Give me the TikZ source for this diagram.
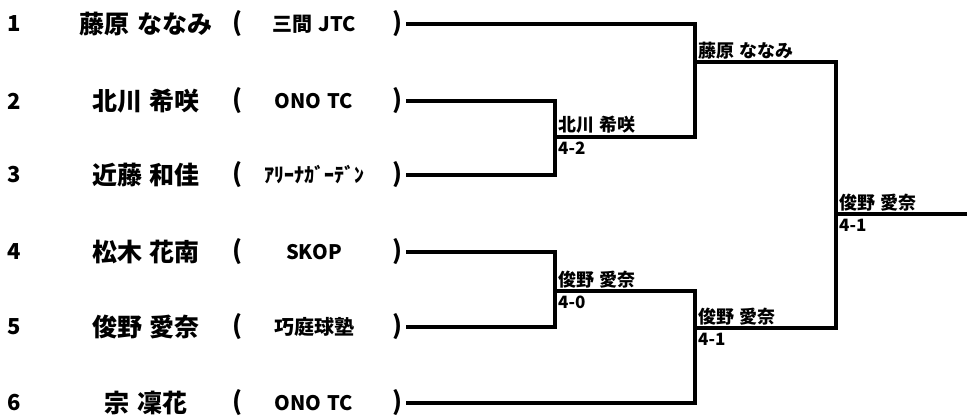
\documentclass[tikz,border=0pt]{standalone}
\usepackage{fontspec}
\newfontfamily\jp[WordSpace=1.3]{Noto Sans CJK JP}
\usetikzlibrary{calc}

\begin{document}
\begin{tikzpicture}[x=1pt, y=-1pt]
        % ================= 样式定义 =================
        \tikzset{
            num/.style={font=\jp\bfseries\fontsize{22}{24}\selectfont, inner sep=0pt},
            txt/.style={font=\jp\bfseries\fontsize{25}{27}\selectfont, inner sep=0pt},
            club/.style={font=\jp\bfseries\fontsize{20}{22}\selectfont, inner sep=0pt},
            win/.style={font=\jp\bfseries\fontsize{18}{20}\selectfont, inner sep=0pt, anchor=south west},
            score/.style={font=\jp\bfseries\fontsize{17}{19}\selectfont, inner sep=0pt, anchor=north west},
            bline/.style={draw=black, line width=3.5pt}
        }
        \useasboundingbox (0,0) rectangle (967,417);

        % ================= 选手 =================
        \foreach \i/\y/\name/\team in {1/24/{藤原 ななみ}/{三間 JTC}, 2/101/{北川 希咲}/{ONO TC},
            3/175/{近藤 和佳}/{ｱﾘｰﾅｶﾞｰﾃﾞﾝ}, 4/252/{松木 花南}/{SKOP},
            5/327/{俊野 愛奈}/{巧庭球塾}, 6/403/{宗 凜花}/{ONO TC}} {
            \node[num] (n\i) at (14,\y) {\i};
            \node[txt] (p\i) at (146,\y) {\name};
            \node[txt] (l\i) at (237,\y) {(};
            \node[club] (c\i) at (314,\y) {\team};
            \node[txt] (r\i) at (397,\y) {)};
            \coordinate (e\i) at (406,\y);
        }

        % ================= 接点 =================
        \coordinate (a23) at (555,137);
        \coordinate (a45) at (555,291);
        \coordinate (b1) at (695,62);
        \coordinate (b2) at (695,328);
        \coordinate (f) at (836,214);
        \coordinate (w) at (967,214);

        % ================= 线 =================
        \draw[bline] (e2) -| (a23 |- e3) -- (e3);
        \draw[bline] (e4) -| (a45 |- e5) -- (e5);
        \draw[bline] (e1) -| (b1 |- a23) -- (a23);
        \draw[bline] (a45) -| (b2 |- e6) -- (e6);
        \draw[bline] (b1) -| (f |- b2) -- (b2);
        \draw[bline] (f) -- (w);

        % ================= 胜者 =================
        \node[win] (w23) at ($(a23)+(3,-3)$) {北川 希咲};
        \node[score] (s23) at ($(a23)+(3,5)$) {4-2};
        \node[win] (w45) at ($(a45)+(3,-3)$) {俊野 愛奈};
        \node[score] (s45) at ($(a45)+(3,5)$) {4-0};
        \node[win] (wb1) at ($(b1)+(3,-3)$) {藤原 ななみ};
        \node[win] (wb2) at ($(b2)+(3,-3)$) {俊野 愛奈};
        \node[score] (sb2) at ($(b2)+(3,5)$) {4-1};
        \node[win] (wf) at ($(f)+(3,-3)$) {俊野 愛奈};
        \node[score] (sf) at ($(f)+(3,5)$) {4-1};

    \end{tikzpicture}
\end{document}
